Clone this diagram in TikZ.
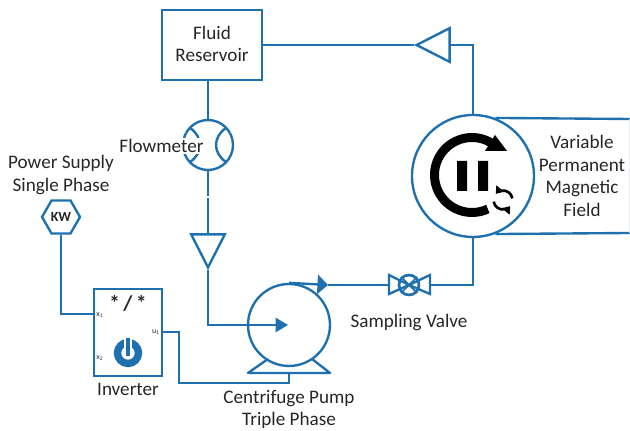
\documentclass[tikz,border=0pt]{standalone}
\usepackage{fontspec}
\setmainfont{Carlito}
\usetikzlibrary{arrows.meta,shapes.geometric}
\definecolor{pipeblue}{HTML}{1F70AE}
\definecolor{labelgray}{HTML}{262626}
\tikzset{
  pipe/.style={draw=pipeblue,line width=1.35pt},
  lab/.style={font=\fontsize{10.9}{12.8}\selectfont,text=labelgray,inner sep=0pt},
  pin/.style={font=\fontsize{4.5}{5}\selectfont,text=labelgray,inner sep=0pt},
  reducer/.style={isosceles triangle,isosceles triangle apex angle=54,
    minimum height=0.66cm,inner sep=0pt,pipe,anchor=apex},
  disc/.style={circle,inner sep=0pt,pipe,fill=white}
}
\begin{document}
\begin{tikzpicture}[x=0.02cm,y=-0.02cm]
	\useasboundingbox (0,0) rectangle (630,431);
	% Nodes of the loop
	\node[pipe,minimum width=2cm,minimum height=1.4cm,inner sep=0pt] (reservoir) at (212,45) {};
	\node[lab] (reservoirlab) at (212,46) {%
	  \begin{tabular}{@{}c@{}}
	      Fluid\\
	      Reservoir
	   \end{tabular}
	};
	\node[reducer,shape border rotate=180] (topreducer) at (414,45) {};
	\node[disc,minimum size=2.44cm] (magnet) at (473,176) {};
	\node[disc,minimum size=1cm] (flowmeter) at (208,145) {};
	\node[reducer,shape border rotate=-90] (leftreducer) at (208,270) {};
	\node[disc,minimum size=1.64cm] (pump) at (289,325) {};
	\node[disc,minimum size=0.4cm] (valve) at (409,285) {};
	\node[pipe,minimum width=1.36cm,minimum height=1.74cm,inner sep=0pt] (inverter) at (128,332.5) {};
	\node[regular polygon,regular polygon sides=6,minimum size=0.76cm,inner sep=0pt,pipe] (kw) at (61,217) {};
	\node[font=\fontsize{8}{9}\selectfont\bfseries,text=labelgray,inner sep=0pt] (kwlab) at (61,217) {KW};
	% Free ends and corners
	\coordinate (pumpbase) at (289,373);
	\coordinate (pumpdrop) at (289,383);
	\coordinate (outarrow) at (328,285);
	\coordinate (valveleft) at (389,285);
	\coordinate (valveright) at (430,285);
	\coordinate (inleft) at (94,314);
	\coordinate (outright) at (162,332);
	\coordinate (inarrow) at (288,325);
	\coordinate (gaptop) at (208,196);
	\coordinate (gapbottom) at (208,198);
	\coordinate (fieldtop) at (630,119);
	\coordinate (fieldbottom) at (630,233);
	% Connectors
	\draw[pipe] (reservoir.east |- topreducer.apex) -- (topreducer.apex);
	\draw[pipe] (topreducer.lower side) -| (magnet.north);
	\draw[pipe] (reservoir.south -| flowmeter) -- (flowmeter.north);
	\draw[pipe] (flowmeter.south) -- (gaptop);
	\draw[pipe] (gapbottom) -- (leftreducer.lower side);
	\draw[pipe,-{Triangle[length=7pt,width=8pt]}] (leftreducer.apex) |- (inarrow);
	\draw[pipe,-{Triangle[length=6pt,width=11pt]}] (pump.north) -- (outarrow);
	\draw[pipe] (outarrow) -- (valveleft);
	\draw[pipe] (valveright) -| (magnet.south);
	\draw[pipe] (kw.south) |- (inleft);
	\draw[pipe] (outright) -- (179,332) |- (pumpdrop) -- (pumpbase);
	\draw[pipe] (magnet.69) -- (fieldtop);
	\draw[pipe] (magnet.-69) -- (fieldbottom);
	\draw[pipeblue!12,line width=0.8pt] (fieldtop) -- (fieldbottom);
	% Pump feet, valve and flowmeter marks
	\draw[pipe,line join=round] (268,359) -- (248,373) -- (330,373) -- (312,359);
	\draw[pipe,line join=miter] (valve.center) -- (389,275) -- (389,294) -- cycle;
	\draw[pipe,line join=miter] (valve.center) -- (430,275) -- (430,294) -- cycle;
	\node[circle,inner sep=0pt,pipe,minimum size=0.4cm] (valvering) at (valve) {};
	\draw[pipe,line width=1pt] (valve.45) -- (valve.225) (valve.135) -- (valve.-45);
	\draw[pipe] ([shift={(18,-17)}]flowmeter.center) .. controls ([shift={(4.7,-8)}]flowmeter.center) and ([shift={(4.7,8)}]flowmeter.center) .. ([shift={(18,17)}]flowmeter.center);
	\draw[pipe] ([shift={(-18,-17)}]flowmeter.center) .. controls ([shift={(-4.7,-8)}]flowmeter.center) and ([shift={(-4.7,8)}]flowmeter.center) .. ([shift={(-18,17)}]flowmeter.center);
	\node[lab,fill=white,inner ysep=1pt,inner xsep=1pt] (flowlab) at (161.5,146) {Flowmeter};
	% Magnet symbol
	\draw[black,line width=5.1pt] ([shift={(-65:0.75cm)}]472,175) arc[start angle=-65,end angle=-300,radius=0.75cm];
	\fill[black] (495,135) -- (507,151) -- (485,151) -- cycle;
	\fill[black] (457,161) rectangle (467,191) (478,161) rectangle (488,191);
	\draw[black,line width=1.5pt,-{Triangle[length=4pt,width=5.5pt]}] ([shift={(190:0.19cm)}]503,200) arc[start angle=190,end angle=320,radius=0.19cm];
	\draw[black,line width=1.5pt,-{Triangle[length=4pt,width=5.5pt]}] ([shift={(10:0.19cm)}]503,200) arc[start angle=10,end angle=140,radius=0.19cm];
	% Inverter marks
	\node[font=\fontsize{12}{13}\selectfont\bfseries,text=labelgray,inner sep=0pt] (ratio) at (128,303) {*\,/\,*};
	\node[pin] (xone) at (100,315) {x\textsubscript{1}};
	\node[pin] (xtwo) at (100,358) {x\textsubscript{2}};
	\node[pin] (uone) at (156,332) {u\textsubscript{1}};
	\node[circle,draw=pipeblue,line width=4.2pt,minimum size=0.42cm,inner sep=0pt] (powericon) at (128,353) {};
	\draw[white,line width=4.4pt] (128,338) -- (128,357);
	\draw[pipeblue,line width=2.8pt] (128,338) -- (128,356);
	% Labels
	\node[lab] (supplylab) at (61,175.5) {%
	  \begin{tabular}{@{}c@{}}
	      Power Supply\\
	      Single Phase
	   \end{tabular}
	};
	\node[lab] (inverterlab) at (128,389) {Inverter};
	\node[lab] (pumplab) at (289,410) {%
	  \begin{tabular}{@{}c@{}}
	      Centrifuge Pump\\
	      Triple Phase
	   \end{tabular}
	};
	\node[lab] (valvelab) at (409,323) {Sampling Valve};
	\node[lab] (fieldlab) at (582,178) {%
	  \begin{tabular}{@{}c@{}}
	      Variable\\
	      Permanent\\
	      Magnetic\\
	      Field
	   \end{tabular}
	};
\end{tikzpicture}
\end{document}
